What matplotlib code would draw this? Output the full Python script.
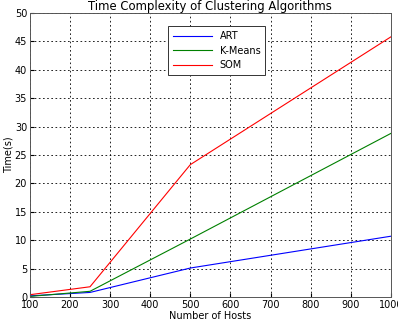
import matplotlib.pyplot as plt

hosts = [100, 250, 500, 1000]
art = [0.2, 0.8, 5.1, 10.7]
kmeans = [0.1, 1.0, 10.2, 28.8]
som = [0.4, 1.8, 23.3, 45.8]

plt.rcParams['font.size'] = 7

fig = plt.figure(figsize=(3.98, 3.26), dpi=100)
ax = fig.add_axes([0.075, 0.089, 0.907, 0.871])

ax.plot(hosts, art, color='blue', lw=0.8, label='ART')
ax.plot(hosts, kmeans, color=(0, 0.5, 0), lw=0.8, label='K-Means')
ax.plot(hosts, som, color='red', lw=0.8, label='SOM')

ax.set_xlim(100, 1000)
ax.set_ylim(0, 50)
ax.set_xticks(range(100, 1001, 100))
ax.set_yticks(range(0, 51, 5))
ax.grid(True, color='black', linestyle=(0, (2, 3)), linewidth=0.6)
ax.tick_params(direction='in', length=3, pad=2)
for s in ax.spines.values():
    s.set_color('#555555')
    s.set_linewidth(0.7)

ax.set_title('Time Complexity of Clustering Algorithms', pad=1)
ax.set_xlabel('Number of Hosts', labelpad=1)
ax.set_ylabel('Time(s)', labelpad=1)

leg = ax.legend(loc='upper left', bbox_to_anchor=(0.37, 0.97), fancybox=False,
                framealpha=1, edgecolor='#333333', handlelength=4, borderpad=0.5,
                labelspacing=0.45)
leg.get_frame().set_linewidth(0.7)

fig.savefig('out.png', dpi=100)
